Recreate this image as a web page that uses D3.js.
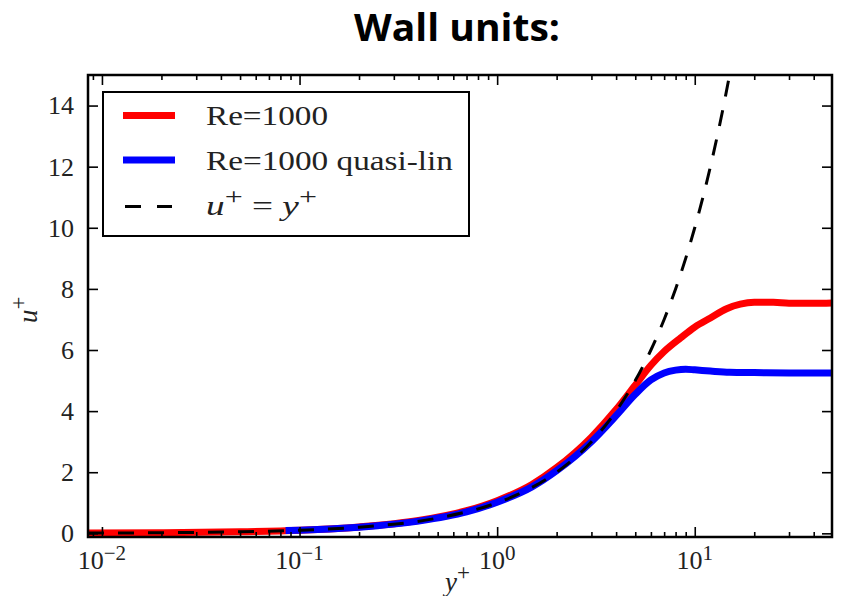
<!DOCTYPE html>
<html>
<head>
<meta charset="utf-8">
<script src="https://cdn.jsdelivr.net/npm/d3@7"></script>
<style>
  html, body { margin: 0; padding: 0; background: #fff; }
  svg { display: block; }
</style>
</head>
<body>
<svg id="chart" width="841" height="596"></svg>
<script>
// ---- data ----
const titleText = "Wall units:";

const redYPlus = [0.0085, 0.02, 0.05, 0.1, 0.2, 0.4, 0.7, 1.0, 1.5, 2.0, 3.0, 4.0, 5.0, 6.0, 7.0, 8.5, 10, 12, 14.5, 17, 20, 25, 30, 40, 49.5];
const redUPlus = [0.01, 0.02, 0.05, 0.1, 0.21, 0.42, 0.74, 1.07, 1.6, 2.15, 3.15, 4.05, 4.85, 5.5, 5.95, 6.4, 6.75, 7.05, 7.35, 7.5, 7.56, 7.56, 7.53, 7.53, 7.54];

const blueYPlus = [0.085, 0.1, 0.2, 0.4, 0.7, 1.0, 1.5, 2.0, 3.0, 4.0, 5.0, 6.0, 7.0, 8.0, 9.0, 10, 12, 15, 20, 30, 40, 49.5];
const blueUPlus = [0.09, 0.1, 0.2, 0.4, 0.7, 1.02, 1.52, 2.05, 3.0, 3.85, 4.55, 5.02, 5.25, 5.34, 5.37, 5.35, 5.31, 5.27, 5.26, 5.25, 5.25, 5.25];

const refYPlus = [0.0085, 0.02, 0.05, 0.1, 0.2, 0.5, 1, 1.5, 2, 3, 4, 5, 6, 7, 8, 9, 10, 11, 12, 13, 14, 15, 16];
const refUPlus = [0.0085, 0.02, 0.05, 0.1, 0.2, 0.5, 1, 1.5, 2, 3, 4, 5, 6, 7, 8, 9, 10, 11, 12, 13, 14, 15, 16];

const seriesNames = ["Re=1000", "Re=1000 quasi-lin"];
const xMajorTicks = [0.01, 0.1, 1, 10];
const xTickExponents = ["\u22122", "\u22121", "0", "1"];
const yTicks = [0, 2, 4, 6, 8, 10, 12, 14];

// ---- layout ----
const svg = d3.select("#chart");
const L = 88, R = 832, T = 75, B = 537;

const x = d3.scaleLog().domain([0.0085, 49.5]).range([L, R]);
const y = d3.scaleLinear().domain([-0.12, 15]).range([B, T]);

const serif = "'Liberation Serif', 'Times New Roman', serif";

// title
svg.append("text")
  .attr("x", 457).attr("y", 41)
  .attr("text-anchor", "middle")
  .attr("font-family", "'Open Sans', Lato, sans-serif")
  .attr("font-weight", "bold")
  .attr("font-size", 38)
  .attr("textLength", 206)
  .attr("lengthAdjust", "spacingAndGlyphs")
  .attr("fill", "#000")
  .text(titleText);

// clip
svg.append("clipPath").attr("id", "plotclip")
  .append("rect").attr("x", L).attr("y", T).attr("width", R - L).attr("height", B - T);

const plot = svg.append("g").attr("clip-path", "url(#plotclip)");

const line = d3.line()
  .x(d => x(d[0])).y(d => y(d[1]))
  .curve(d3.curveMonotoneX);

const redData = redYPlus.map((v, i) => [v, redUPlus[i]]);
const blueData = blueYPlus.map((v, i) => [v, blueUPlus[i]]);
const refData = refYPlus.map((v, i) => [v, refUPlus[i]]);

plot.append("path").datum(redData)
  .attr("d", line).attr("fill", "none")
  .attr("stroke", "#ff0000").attr("stroke-width", 7)
  .attr("stroke-linejoin", "round");

plot.append("path").datum(blueData)
  .attr("d", line).attr("fill", "none")
  .attr("stroke", "#0000ff").attr("stroke-width", 7)
  .attr("stroke-linejoin", "round");

plot.append("path").datum(refData)
  .attr("d", line).attr("fill", "none")
  .attr("stroke", "#000").attr("stroke-width", 3)
  .attr("stroke-dasharray", "16,14");

// ticks (inward, all four sides)
const axG = svg.append("g");
const minorTicks = [];
[0.001, 0.01, 0.1, 1, 10].forEach(dec => {
  for (let k = 2; k <= 9; k++) {
    const v = dec * k;
    if (v > x.domain()[0] && v < x.domain()[1]) minorTicks.push(v);
  }
});
const xAxisB = d3.axisBottom(x).tickValues(xMajorTicks).tickSize(-10).tickFormat("");
const xAxisT = d3.axisTop(x).tickValues(xMajorTicks).tickSize(-10).tickFormat("");
const xAxisBm = d3.axisBottom(x).tickValues(minorTicks).tickSize(-5).tickFormat("");
const xAxisTm = d3.axisTop(x).tickValues(minorTicks).tickSize(-5).tickFormat("");
const yAxisL = d3.axisLeft(y).tickValues(yTicks).tickSize(-10).tickFormat("");
const yAxisR = d3.axisRight(y).tickValues(yTicks).tickSize(-10).tickFormat("");

function styleAxis(g) {
  g.select(".domain").remove();
  g.selectAll(".tick line").attr("stroke", "#000").attr("stroke-width", 1.6);
}
axG.append("g").attr("transform", `translate(0,${B})`).call(xAxisB).call(styleAxis);
axG.append("g").attr("transform", `translate(0,${T})`).call(xAxisT).call(styleAxis);
axG.append("g").attr("transform", `translate(0,${B})`).call(xAxisBm).call(styleAxis);
axG.append("g").attr("transform", `translate(0,${T})`).call(xAxisTm).call(styleAxis);
axG.append("g").attr("transform", `translate(${L},0)`).call(yAxisL).call(styleAxis);
axG.append("g").attr("transform", `translate(${R},0)`).call(yAxisR).call(styleAxis);

// frame
svg.append("rect").attr("x", L).attr("y", T).attr("width", R - L).attr("height", B - T)
  .attr("fill", "none").attr("stroke", "#000").attr("stroke-width", 2.5);

// y tick labels
svg.append("g").selectAll("text").data(yTicks).join("text")
  .attr("x", L - 14).attr("y", d => y(d))
  .attr("dy", "0.34em")
  .attr("text-anchor", "end")
  .attr("font-family", serif).attr("font-size", 26)
  .attr("fill", "#222")
  .text(d => d);

// x tick labels 10^n
const xl = svg.append("g").selectAll("text").data(xMajorTicks).join("text")
  .attr("x", d => x(d)).attr("y", 569)
  .attr("text-anchor", "middle")
  .attr("font-family", serif).attr("font-size", 26)
  .attr("fill", "#222");
xl.append("tspan").text("10");
xl.append("tspan").attr("dy", -9).attr("font-size", 21).text((d, i) => xTickExponents[i]);

// axis labels
const xlab = svg.append("text")
  .attr("x", 445).attr("y", 591)
  .attr("font-family", serif).attr("font-size", 27).attr("fill", "#222");
xlab.append("tspan").attr("font-style", "italic").text("y");
xlab.append("tspan").attr("dy", -11).attr("font-size", 23).text("+");

const ylab = svg.append("text")
  .attr("transform", "translate(37,323) rotate(-90)")
  .attr("font-family", serif).attr("font-size", 27).attr("fill", "#222");
ylab.append("tspan").attr("font-style", "italic").text("u");
ylab.append("tspan").attr("dy", -11).attr("font-size", 23).text("+");

// legend
const lg = svg.append("g");
lg.append("rect").attr("x", 103).attr("y", 92).attr("width", 366).attr("height", 144)
  .attr("fill", "#fff").attr("stroke", "#000").attr("stroke-width", 2);

const legendRows = [
  { color: "#ff0000", w: 7, dash: null, y: 115.5 },
  { color: "#0000ff", w: 7, dash: null, y: 160 },
  { color: "#000", w: 3, dash: "16,16", y: 206.5 }
];
legendRows.forEach(r => {
  lg.append("line").attr("x1", r.dash ? 125 : 123).attr("x2", r.dash ? 172 : 175)
    .attr("y1", r.y).attr("y2", r.y)
    .attr("stroke", r.color).attr("stroke-width", r.w)
    .attr("stroke-dasharray", r.dash);
});
const legendText = (yy, len) => lg.append("text").attr("x", 206).attr("y", yy)
  .attr("font-family", serif).attr("font-size", 28).attr("fill", "#222")
  .attr("textLength", len).attr("lengthAdjust", "spacingAndGlyphs");
legendText(125, 122).text(seriesNames[0]);
legendText(170, 247).text(seriesNames[1]);
const t3 = legendText(215, 111);
t3.append("tspan").attr("font-style", "italic").text("u");
t3.append("tspan").attr("dy", -11).attr("font-size", 24).text("+");
t3.append("tspan").attr("dy", 11).text(" = ");
t3.append("tspan").attr("font-style", "italic").text("y");
t3.append("tspan").attr("dy", -11).attr("font-size", 24).text("+");
</script>
</body>
</html>
